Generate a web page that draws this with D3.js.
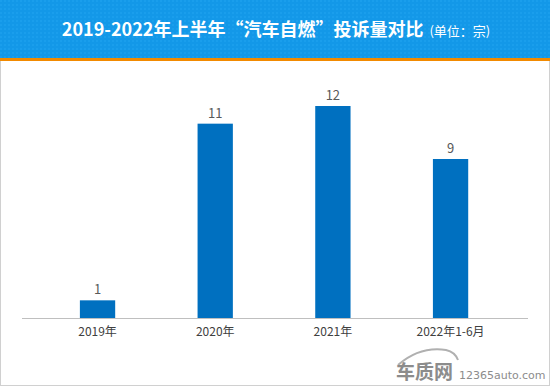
<!DOCTYPE html>
<html>
<head>
<meta charset="utf-8">
<script src="https://cdn.jsdelivr.net/npm/d3@7"></script>
<style>
  body { margin: 0; background: #fff; }
  svg { display: block; font-family: "Noto Sans CJK SC", "Noto Sans", sans-serif; }
</style>
</head>
<body>
<svg id="chart"></svg>
<script>
var width = 550, height = 386;

// Chart data.
var categories = ["2019年", "2020年", "2021年", "2022年1-6月"];
var complaints = [1, 11, 12, 9];
var titleMain = "2019-2022年上半年“汽车自燃”投诉量对比";
var titleUnit = "(单位：宗)";

var svg = d3.select("#chart")
  .attr("width", width)
  .attr("height", height);

// Frame around the plot area.
svg.append("rect")
  .attr("x", 0.5).attr("y", 0.5)
  .attr("width", width - 1).attr("height", height - 1)
  .attr("fill", "#fff")
  .attr("stroke", "#d0d0d0");

// Header band with a faint checker texture.
var defs = svg.append("defs");
var pat = defs.append("pattern")
  .attr("id", "dots")
  .attr("width", 4).attr("height", 4)
  .attr("patternUnits", "userSpaceOnUse");
pat.append("rect").attr("width", 4).attr("height", 4).attr("fill", "#1398e8");
pat.append("rect").attr("width", 2).attr("height", 2).attr("fill", "#1a9eec");

svg.append("rect")
  .attr("x", 0).attr("y", 0)
  .attr("width", width).attr("height", 58)
  .attr("fill", "url(#dots)");
svg.append("rect")
  .attr("x", 0).attr("y", 58)
  .attr("width", width).attr("height", 3)
  .attr("fill", "#f28a00");

var title = svg.append("text")
  .attr("x", 276)
  .attr("y", 36)
  .attr("text-anchor", "middle")
  .attr("fill", "#fff");
title.append("tspan")
  .attr("font-size", 18)
  .attr("font-weight", "bold")
  .text(titleMain);
title.append("tspan")
  .attr("dx", 6)
  .attr("font-size", 13)
  .text(titleUnit);

// Scales.
var x = d3.scaleBand()
  .domain(categories)
  .range([38.7, 509.4])
  .paddingInner(0.70)
  .paddingOuter(0.35);

var y = d3.scaleLinear()
  .domain([0, 12])
  .range([318, 106]);

// Bars.
svg.append("g").selectAll("rect")
  .data(complaints)
  .enter().append("rect")
    .attr("x", function(d, i) { return x(categories[i]); })
    .attr("y", function(d) { return y(d); })
    .attr("width", x.bandwidth())
    .attr("height", function(d) { return y(0) - y(d); })
    .attr("fill", "#0070c0");

// Value labels.
svg.append("g").selectAll("text")
  .data(complaints)
  .enter().append("text")
    .attr("x", function(d, i) { return x(categories[i]) + x.bandwidth() / 2; })
    .attr("y", function(d) { return y(d) - 6; })
    .attr("text-anchor", "middle")
    .attr("font-size", 13)
    .attr("fill", "#595959")
    .text(function(d) { return d; });

// Category axis.
var axis = svg.append("g")
  .attr("transform", "translate(0," + y(0) + ")")
  .call(d3.axisBottom(x).tickSize(0).tickPadding(9));
axis.select(".domain").remove();
axis.append("line")
  .attr("x1", 22).attr("x2", 528)
  .attr("y1", 0.5).attr("y2", 0.5)
  .attr("stroke", "#bfbfbf");
axis.selectAll("text")
  .attr("font-family", "\"Noto Sans CJK SC\", sans-serif")
  .attr("font-size", 12)
  .attr("fill", "#404040");

// Watermark.
var mark = svg.append("g").attr("fill", "#9a9a9a");
mark.append("path")
  .attr("d", "M398,365 Q420,346 446,350 Q455,352 458,360")
  .attr("fill", "none")
  .attr("stroke", "#b0b0b0")
  .attr("stroke-width", 2);
mark.append("text")
  .attr("x", 396).attr("y", 379)
  .attr("font-size", 19)
  .attr("font-weight", "bold")
  .attr("fill", "#8c8c8c")
  .text("车质网");
mark.append("text")
  .attr("x", 459).attr("y", 379)
  .attr("font-size", 11)
  .attr("font-family", "\"DejaVu Sans\", sans-serif")
  .attr("fill", "#8c8c8c")
  .text("12365auto.com");
</script>
</body>
</html>
